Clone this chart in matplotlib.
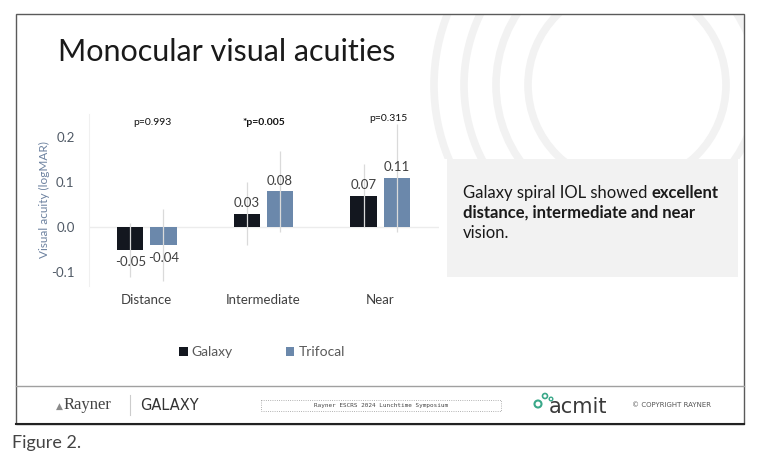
import matplotlib.pyplot as plt
import matplotlib.patches as mpatches
import numpy as np

plt.rcParams['font.family'] = ['Lato', 'DejaVu Sans']

categories = ["Distance", "Intermediate", "Near"]
galaxy = [-0.05, 0.03, 0.07]
trifocal = [-0.04, 0.08, 0.11]
galaxy_err = [0.06, 0.07, 0.07]
trifocal_err = [0.08, 0.09, 0.12]
p_labels = ["p=0.993", "*p=0.005", "p=0.315"]
p_bold = [False, True, False]

c_gal = "#13171f"
c_tri = "#6b88ab"
W, H = 768, 463

fig = plt.figure(figsize=(7.68, 4.63), dpi=100)
fig.patch.set_facecolor("white")

# overlay in pixel coordinates for the slide decoration
bg = fig.add_axes([0, 0, 1, 1], zorder=0)
bg.set_xlim(0, W)
bg.set_ylim(H, 0)
bg.axis("off")

frame_clip = mpatches.Rectangle((16, 14), 728, 145, transform=bg.transData)
for r in [99, 131, 163, 193]:
    ring = mpatches.Circle((627, 85), r, fill=False, ec="#f2f2f2", lw=5.5)
    bg.add_patch(ring)
    ring.set_clip_path(frame_clip)

bg.add_patch(mpatches.Rectangle((447, 159), 291, 118, fc="#f2f2f2", ec="none"))
bg.add_patch(mpatches.Rectangle((16, 14), 728, 410, fill=False, ec="#5a5a5a", lw=1))
bg.plot([16, 744], [386, 386], color="#a0a0a0", lw=1)
bg.plot([16, 744], [424, 424], color="#222222", lw=1.5)

bg.text(58, 52, "Monocular visual acuities", fontsize=22, color="#1a1a1a", va="center", ha="left")

# box text with mixed weights
t1 = bg.text(463, 193, "Galaxy spiral IOL showed ", fontsize=12, color="#1a1a1a", va="center")
bg.annotate("excellent", xy=(1, 0), xycoords=t1, va="bottom", ha="left",
            fontsize=12, fontweight="bold", color="#1a1a1a")
bg.text(463, 213, "distance, intermediate and near", fontsize=12, fontweight="bold",
        color="#1a1a1a", va="center")
bg.text(463, 233, "vision.", fontsize=12, color="#1a1a1a", va="center")

# footer
bg.text(56, 406, "\u25b2", fontsize=6.5, color="#8a8a8a", va="center", ha="left")
bg.text(64, 405, "Rayner", fontsize=12, family="Liberation Serif", color="#444444", va="center")
bg.plot([130, 130], [395, 415], color="#cccccc", lw=0.8)
bg.text(140, 405, "GALAXY", fontsize=10.5, color="#333333", va="center", family="DejaVu Sans")
bg.add_patch(mpatches.Rectangle((261, 400), 240, 11, fill=False, ec="#999999", lw=0.6, ls=":"))
bg.text(381, 405.5, "Rayner ESCRS 2024 Lunchtime Symposium", fontsize=4.3, color="#444444",
        va="center", ha="center", family="DejaVu Sans Mono")
bg.add_patch(mpatches.Circle((538, 404), 3.5, fc="white", ec="#3aa889", lw=1.5))
bg.add_patch(mpatches.Circle((545, 396), 2.5, fill=False, ec="#3aa889", lw=1.2))
bg.add_patch(mpatches.Circle((551, 399), 1.8, fill=False, ec="#3aa889", lw=1))
bg.text(549, 407, "acmit", fontsize=15, color="#3a3a3a", va="center", family="DejaVu Sans")
bg.text(632, 405, "\u00a9 COPYRIGHT RAYNER", fontsize=5, color="#555555", va="center",
        family="DejaVu Sans")
bg.text(12, 443, "Figure 2.", fontsize=13, color="#444444", va="center")

# chart
ax = fig.add_axes([88.5 / W, 1 - 285.5 / H, 350 / W, 171 / H], zorder=2)
ax.patch.set_alpha(0)
x = np.arange(len(categories))
off, bw = 0.142, 0.225
err_k = dict(ecolor="#dadada", elinewidth=0.9, capsize=0)
b1 = ax.bar(x - off, galaxy, bw, color=c_gal, label="Galaxy", yerr=galaxy_err, error_kw=err_k, zorder=2)
b2 = ax.bar(x + off, trifocal, bw, color=c_tri, label="Trifocal", yerr=trifocal_err, error_kw=err_k, zorder=2)

for bars in (b1, b2):
    for rect in bars:
        v = rect.get_height()
        cx = rect.get_x() + rect.get_width() / 2
        if v >= 0:
            ax.annotate(f"{v:.2f}", (cx, v), xytext=(0, 3), textcoords="offset points",
                        ha="center", va="bottom", fontsize=9.5, color="#404040")
        else:
            ax.annotate(f"{v:.2f}", (cx, v), xytext=(0, -5), textcoords="offset points",
                        ha="center", va="top", fontsize=9.5, color="#404040")

p_pos = [(0.05, 0.233), (1.0, 0.233), (2.07, 0.242)]
for (px, py), lab, bold in zip(p_pos, p_labels, p_bold):
    ax.text(px, py, lab, ha="center", va="center", fontsize=7.5, color="#111111",
            fontweight="bold" if bold else "normal")

ax.axhline(0, color="#ececec", lw=1, zorder=1)
ax.set_xlim(-0.5, 2.5)
ax.set_ylim(-0.13, 0.25)
ax.set_yticks([-0.1, 0.0, 0.1, 0.2])
ax.set_yticklabels(["-0.1", "0.0", "0.1", "0.2"])
ax.set_xticks(x)
ax.set_xticklabels(categories)
ax.tick_params(axis="y", length=0, pad=10, labelsize=9.5, labelcolor="#505a66")
ax.tick_params(axis="x", length=0, pad=6, labelsize=9.5, labelcolor="#404040")
ax.set_ylabel("Visual acuity (logMAR)", fontsize=8.5, color="#6d82a0", labelpad=1)
for s in ["top", "right", "bottom"]:
    ax.spines[s].set_visible(False)
ax.spines["left"].set_color("#f0f0f0")

fig.legend(handles=[b1, b2], loc="center", bbox_to_anchor=(262 / W, 1 - 352 / H), ncol=2,
           frameon=False, fontsize=10, labelcolor="#595959", handlelength=0.6,
           handleheight=0.6, handletextpad=0.3, columnspacing=3.8)

fig.savefig("out.png", dpi=100, facecolor="white")
